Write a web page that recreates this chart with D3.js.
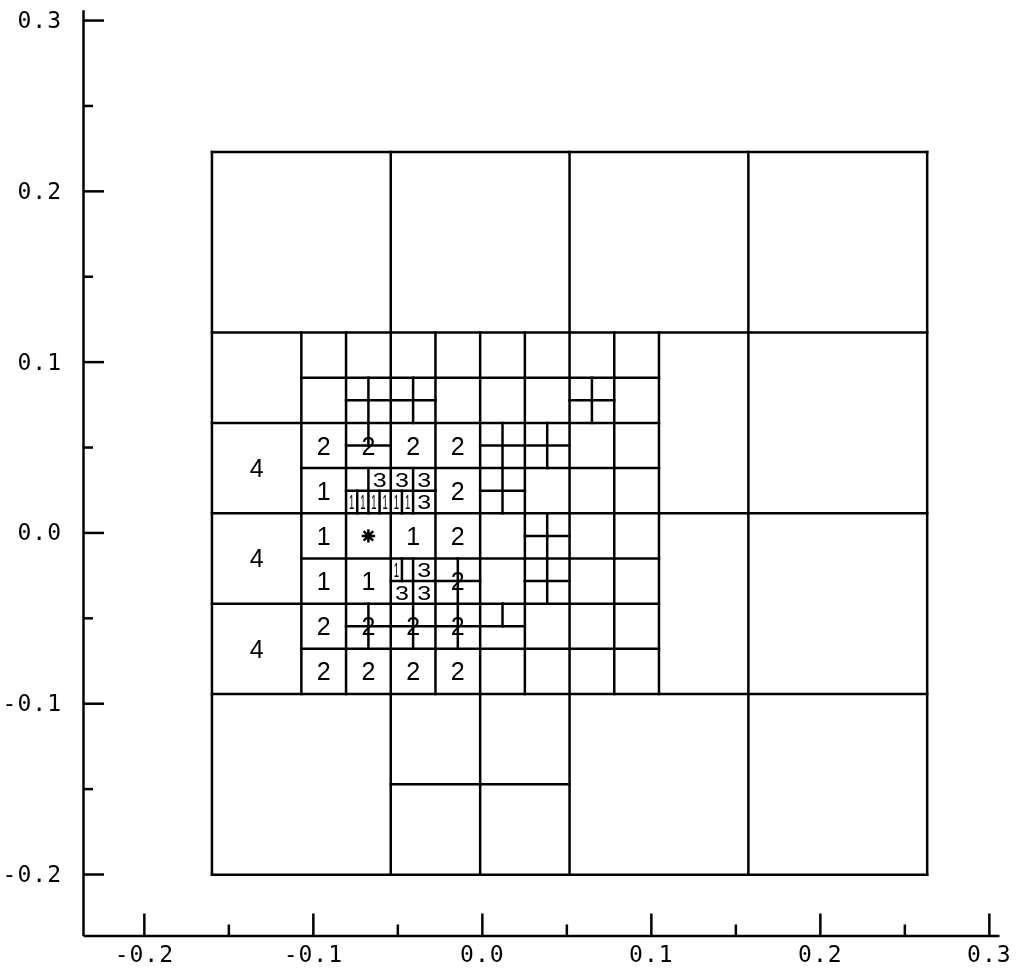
<!DOCTYPE html>
<html><head><meta charset="utf-8">
<script src="https://cdn.jsdelivr.net/npm/d3@7"></script>
<style>
html,body{margin:0;padding:0;background:#fff;}
svg{display:block;filter:grayscale(1);}
</style></head><body>
<svg id="chart" width="1018" height="970"></svg>
<script>
// ---- axes ----
const xDomain = [-0.236, 0.306];
const yDomain = [-0.236, 0.306];
const majorTicks = [-0.2, -0.1, 0.0, 0.1, 0.2, 0.3];
const minorTicks = [-0.15, -0.05, 0.05, 0.15, 0.25];
const tickLabels = ["-0.2", "-0.1", "0.0", "0.1", "0.2", "0.3"];

// ---- cell grid (data units) ----
const gridOriginX = -0.1597;   // left edge of the mesh
const gridOriginY = 0.2228;    // top edge of the mesh
const gridCell = 0.1058;       // size of a coarse cell (= 8 grid units)

// horizontal cell edges: [row, colStart, colEnd] in grid units
const hSegs = [
  [0,0,32],[8,0,32],[16,0,32],[24,0,32],[32,0,32],
  [28,8,16],
  [12,0,20],[20,0,20],
  [10,4,20],[14,4,20],[18,4,20],[22,4,20],
  [11,6,10],[11,16,18],
  [13,6,8],[13,12,16],
  [15,6,10],[15,12,14],
  [17,14,16],
  [19,8,12],[19,14,16],
  [21,6,14]
];
// vertical cell edges: [col, rowStart, rowEnd] in grid units
const vSegs = [
  [0,0,32],[32,0,32],[8,0,32],[16,0,32],[24,0,32],
  [12,8,32],
  [4,8,24],[6,8,24],[10,8,24],[14,8,24],[18,8,24],[20,8,24],
  [7,10,12],[9,10,12],[17,10,12],
  [7,12,13],[13,12,16],[15,12,14],
  [7,14,16],[9,14,16],
  [15,16,20],
  [9,18,20],[11,18,20],
  [7,20,22],[9,20,22],[11,20,22],[13,20,21],
  [6.5,15,16],[7.5,15,16],[8.5,15,16],[8.5,18,19]
];
// cell labels: [text, col, row] (cell centre, grid units)
const cellLabels = [
  ["4",2,14],["4",2,18],["4",2,22],
  ["2",5,13],["2",7,13],["2",9,13],["2",11,13],
  ["1",5,15],["3",7.5,14.5],["3",8.5,14.5],["3",9.5,14.5],["3",9.5,15.5],
  ["1",6.25,15.5],["1",6.75,15.5],["1",7.25,15.5],["1",7.75,15.5],["1",8.25,15.5],["1",8.75,15.5],
  ["2",11,15],
  ["1",5,17],["1",9,17],["2",11,17],
  ["1",5,19],["1",7,19],["1",8.25,18.5],["3",9.5,18.5],["3",8.5,19.5],["3",9.5,19.5],["2",11,19],
  ["2",5,21],["2",7,21],["2",9,21],["2",11,21],
  ["2",5,23],["2",7,23],["2",9,23],["2",11,23]
];
// starred point: [col, row]
const starPoint = [[7,17]];

// ---- drawing ----
const svg = d3.select("#chart");
const x = d3.scaleLinear().domain(xDomain).range([83, 999]);
const y = d3.scaleLinear().domain(yDomain).range([935.5, 9.8]);
const U = gridCell / 8;
const gx = c => gridOriginX + c * U;
const gy = r => gridOriginY - r * U;

// axes
const fmt = d => tickLabels[majorTicks.findIndex(t => Math.abs(t - d) < 1e-9)];
svg.append("g").attr("transform", `translate(${x(xDomain[0])},0)`)
  .call(d3.axisLeft(y).tickValues(majorTicks).tickFormat(fmt).tickSizeInner(-21).tickSizeOuter(0).tickPadding(21));
const yMinor = svg.append("g").attr("transform", `translate(${x(xDomain[0])},0)`)
  .call(d3.axisLeft(y).tickValues(minorTicks).tickFormat("").tickSizeInner(-10).tickSizeOuter(0));
yMinor.select(".domain").remove();
svg.append("g").attr("transform", `translate(0,${y(yDomain[0])})`)
  .call(d3.axisBottom(x).tickValues(majorTicks).tickFormat(fmt).tickSizeInner(-22).tickSizeOuter(0).tickPadding(10));
const xMinor = svg.append("g").attr("transform", `translate(0,${y(yDomain[0])})`)
  .call(d3.axisBottom(x).tickValues(minorTicks).tickFormat("").tickSizeInner(-11).tickSizeOuter(0));
xMinor.select(".domain").remove();
svg.selectAll(".domain, .tick line").attr("stroke", "#000").attr("stroke-width", 2.5);
svg.selectAll(".tick text").attr("fill", "#000")
  .style("font-family", "'DejaVu Sans Mono', monospace").style("font-size", "23px")
  .style("letter-spacing", "1px");

// mesh
const mesh = svg.append("g").attr("stroke", "#000").attr("stroke-width", 2.5).attr("stroke-linecap", "square");
mesh.selectAll("line.h").data(hSegs).join("line").attr("class", "h")
  .attr("x1", d => x(gx(d[1]))).attr("x2", d => x(gx(d[2])))
  .attr("y1", d => y(gy(d[0]))).attr("y2", d => y(gy(d[0])));
mesh.selectAll("line.v").data(vSegs).join("line").attr("class", "v")
  .attr("x1", d => x(gx(d[0]))).attr("x2", d => x(gx(d[0])))
  .attr("y1", d => y(gy(d[1]))).attr("y2", d => y(gy(d[2])));

// labels: labels in fine cells are squeezed to fit their cell
const frac = v => Math.abs(v - Math.round(v)) > 1e-9;
const labelTransform = d => {
  const narrow = frac(d[1] * 2);          // quarter-unit columns: finest cells
  const fine = frac(d[1]) || frac(d[2]);  // half-unit centres: small cells
  const sx = narrow ? 0.38 : 1, sy = fine ? 0.82 : 1;
  return `translate(${x(gx(d[1]))},${y(gy(d[2]))})` + (fine ? ` scale(${sx},${sy})` : "");
};
svg.append("g").selectAll("text").data(cellLabels).join("text")
  .attr("transform", labelTransform)
  .attr("dy", "0.36em").attr("text-anchor", "middle")
  .style("font-family", "'Liberation Sans', Arial, sans-serif").style("font-size", "25px")
  .attr("fill", "#000").text(d => d[0]);

// starred point (asterisk symbol)
const asterisk = {
  draw(ctx, size) {
    const r = Math.sqrt(size) / 2;
    const s = r * Math.SQRT1_2;
    ctx.moveTo(0, -r); ctx.lineTo(0, r);
    ctx.moveTo(-r, 0); ctx.lineTo(r, 0);
    ctx.moveTo(-s, -s); ctx.lineTo(s, s);
    ctx.moveTo(-s, s); ctx.lineTo(s, -s);
  }
};
svg.append("g").selectAll("path").data(starPoint).join("path")
  .attr("transform", d => `translate(${x(gx(d[0]))},${y(gy(d[1]))})`)
  .attr("d", d3.symbol(asterisk, 180))
  .attr("fill", "none").attr("stroke", "#000").attr("stroke-width", 2.5);
</script>
</body></html>
